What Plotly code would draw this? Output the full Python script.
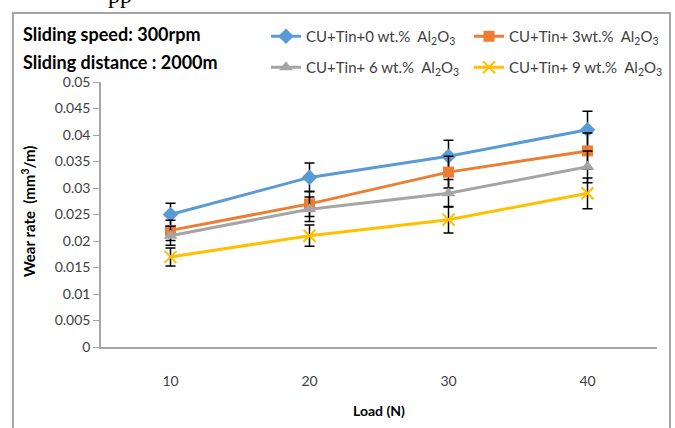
import plotly.graph_objects as go

loads = [10, 20, 30, 40]
names = ["CU+Tin+0 wt.%  Al<sub>2</sub>O<sub>3</sub>",
         "CU+Tin+ 3wt.%  Al<sub>2</sub>O<sub>3</sub>",
         "CU+Tin+ 6 wt.%  Al<sub>2</sub>O<sub>3</sub>",
         "CU+Tin+ 9 wt.%  Al<sub>2</sub>O<sub>3</sub>"]
wear_0 = [0.025, 0.032, 0.036, 0.041]
wear_3 = [0.022, 0.027, 0.033, 0.037]
wear_6 = [0.021, 0.026, 0.029, 0.034]
wear_9 = [0.017, 0.021, 0.024, 0.029]
err_0 = [0.0021, 0.0027, 0.003, 0.0035]
err_3 = [0.0019, 0.0024, 0.003, 0.0034]
err_6 = [0.0018, 0.0023, 0.0026, 0.003]
err_9 = [0.0017, 0.002, 0.0025, 0.0029]
y_ticks = [0, 0.005, 0.01, 0.015, 0.02, 0.025, 0.03, 0.035, 0.04, 0.045, 0.05]
y_tick_text = ["0", "0.005", "0.01", "0.015", "0.02", "0.025", "0.03", "0.035", "0.04", "0.045", "0.05"]

W, H = 675, 428
L, R, T, B = 101, 657, 82, 347
def px(x):
    return (x - L) / (R - L)
def py(y):
    return (B - y) / (B - T)

FONT = "Lato"
series = [
    (wear_0, err_0, "#5B9BD5", dict(symbol="diamond", size=12, color="#5B9BD5"), "legend"),
    (wear_3, err_3, "#ED7D31", dict(symbol="square", size=11, color="#ED7D31"), "legend"),
    (wear_6, err_6, "#A5A5A5", dict(symbol="triangle-up", size=12, color="#A5A5A5"), "legend2"),
    (wear_9, err_9, "#FFC000", dict(symbol="x-thin-open", size=12, color="#FFC000",
                                    line=dict(color="#FFC000", width=2)), "legend2"),
]

fig = go.Figure()
for (vals, errs, col, mk, lg), nm in zip(series, names):
    fig.add_trace(go.Scatter(
        x=loads, y=vals, name=nm, mode="lines+markers",
        line=dict(color=col, width=3), marker=mk, legend=lg,
        error_y=dict(type="data", array=errs, visible=True, color="black",
                     thickness=1.5, width=5),
    ))

LEG_FONT = dict(family=FONT, size=15, color="#404040")
fig.update_layout(
    width=W, height=H,
    margin=dict(l=L, r=W - R, t=T, b=H - B, autoexpand=False),
    paper_bgcolor="white", plot_bgcolor="white",
    font=dict(family=FONT, size=14, color="#404040"),
    showlegend=True,
    legend=dict(orientation="h", x=px(266), y=py(20), xanchor="left", yanchor="top",
                entrywidth=158, entrywidthmode="pixels", font=LEG_FONT,
                bgcolor="rgba(0,0,0,0)"),
    legend2=dict(orientation="h", x=px(266), y=py(51), xanchor="left", yanchor="top",
                 entrywidth=158, entrywidthmode="pixels", font=LEG_FONT,
                 bgcolor="rgba(0,0,0,0)"),
    xaxis=dict(range=[5, 45], tickvals=loads, ticktext=[str(v) for v in loads],
               showline=True, linecolor="#A6A6A6", linewidth=1.5, ticks="",
               showgrid=False, zeroline=False, ticklabelstandoff=20,
               tickfont=dict(family=FONT, size=14, color="#404040")),
    yaxis=dict(range=[0, 0.05], tickvals=y_ticks, ticktext=y_tick_text,
               showline=True, linecolor="#A6A6A6", linewidth=1.5,
               ticks="outside", ticklen=6, tickcolor="#A6A6A6",
               showgrid=False, zeroline=False,
               tickfont=dict(family=FONT, size=14, color="#404040")),
)

fig.add_shape(type="rect", xref="paper", yref="paper",
              x0=px(13), x1=px(670), y0=py(440), y1=py(13),
              line=dict(color="#A6A6A6", width=2), fillcolor="rgba(0,0,0,0)", layer="below")

ann = [
    dict(text="<b>Sliding speed: 300rpm</b>", x=px(21), y=py(34), xanchor="left", yanchor="middle",
         font=dict(family=FONT, size=18, color="black")),
    dict(text="<b>Sliding distance : 2000m</b>", x=px(21), y=py(62), xanchor="left", yanchor="middle",
         font=dict(family=FONT, size=18, color="black")),
    dict(text="<b>Wear rate  (mm<sup>3</sup>/m)</b>", x=px(28), y=py(212), textangle=-90,
         xanchor="center", yanchor="middle", font=dict(family=FONT, size=15, color="black")),
    dict(text="<b>Load (N)</b>", x=px(379), y=py(410), xanchor="center", yanchor="middle",
         font=dict(family=FONT, size=14, color="black")),
    dict(text="pp", x=px(120), y=py(10), xanchor="center", yanchor="bottom",
         font=dict(family="Liberation Serif", size=24, color="black")),
]
for a in ann:
    fig.add_annotation(xref="paper", yref="paper", showarrow=False, **a)

fig.write_html("out.html", config={"displayModeBar": False},
               post_script="document.body.style.margin='0';")
